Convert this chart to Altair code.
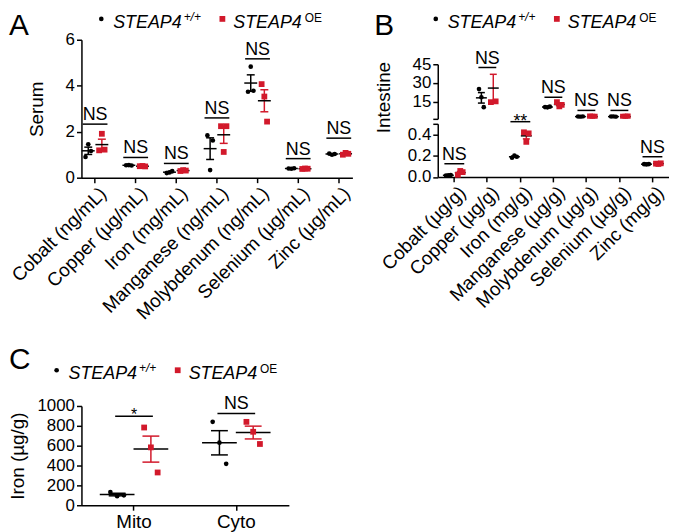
import altair as alt
import pandas as pd

FONT = "Liberation Sans"
RED = "#D2192B"
BLACK = "#000000"
GROUPS = ["WT", "OE"]
OFFSET_KEYS = ["WT0", "WT1", "WT2", "gap1", "gap2", "OE0", "OE1", "OE2"]

# ---------------- Panel A: serum ----------------
a_categories = ["Cobalt (ng/mL)", "Copper (µg/mL)", "Iron (mg/mL)", "Manganese (ng/mL)",
                "Molybdenum (ng/mL)", "Selenium (µg/mL)", "Zinc (µg/mL)"]
a_wt = [[0.90, 1.45, 1.16], [0.54, 0.55, 0.53], [0.20, 0.23, 0.29], [1.84, 0.33, 1.62],
        [3.74, 4.83, 3.78], [0.40, 0.39, 0.41], [1.05, 1.00, 1.03]]
a_oe = [[1.19, 1.91, 1.22], [0.50, 0.51, 0.49], [0.29, 0.33, 0.31], [2.24, 1.12, 2.24],
        [4.07, 3.53, 2.44], [0.38, 0.40, 0.39], [1.00, 1.08, 1.04]]
a_sig_labels = ["NS", "NS", "NS", "NS", "NS", "NS", "NS"]
a_sig_heights = [2.33, 0.88, 0.62, 2.60, 5.17, 0.83, 1.72]
a_yticks = [0, 2, 4, 6]

# ---------------- Panel B: intestine (broken axis) ----------------
b_categories = ["Cobalt (µg/g)", "Copper (µg/g)", "Iron (mg/g)", "Manganese (µg/g)",
                "Molybdenum (µg/g)", "Selenium (µg/g)", "Zinc (mg/g)"]
b_segment = ["low", "high", "low", "high", "high", "high", "low"]
b_wt = [[0.012, 0.015, 0.018], [25.0, 18.4, 10.4], [0.18, 0.20, 0.19], [10.5, 10.3, 10.8],
        [2.8, 2.7, 2.9], [2.8, 2.9, 2.7], [0.120, 0.118, 0.121]]
b_oe = [[0.020, 0.056, 0.045], [14.4, 48.0, 15.0], [0.42, 0.33, 0.41], [14.5, 11.0, 12.3],
        [2.9, 2.8, 2.7], [2.7, 2.8, 2.9], [0.125, 0.122, 0.128]]
b_sig_labels = ["NS", "NS", "**", "NS", "NS", "NS", "NS"]
b_sig_heights = [0.124, 42.4, 0.52, 18.4, 7.8, 7.8, 0.19]
b_high_ticks = [1, 15, 30, 45]
b_low_ticks = [0.0, 0.2, 0.4, 0.5]

# ---------------- Panel C: subcellular iron ----------------
c_categories = ["Mito", "Cyto"]
c_wt = [[133, 90, 100], [840, 630, 417]]
c_oe = [[783, 583, 330], [840, 740, 617]]
c_sig_labels = ["*", "NS"]
c_sig_heights = [897, 925]
c_yticks = [0, 200, 400, 600, 800, 1000]


def point_rows(cats, wt, oe, keep=None):
    rows = []
    for i, c in enumerate(cats):
        if keep is not None and not keep[i]:
            continue
        for g, vals in (("WT", wt[i]), ("OE", oe[i])):
            for r, v in enumerate(vals):
                rows.append({"cat": c, "grp": g, "key": f"{g}{r}", "v": v})
    return pd.DataFrame(rows, columns=["cat", "grp", "key", "v"])


def sig_rows(cats, labels, heights, keep=None):
    rows = []
    for i, c in enumerate(cats):
        if keep is not None and not keep[i]:
            continue
        rows.append({"cat": c, "lab": labels[i], "h": heights[i]})
    return pd.DataFrame(rows, columns=["cat", "lab", "h"])


def panel_layers(pts, sig, xs, ys, xax, yax, ytitle, mean_size, cap_size, br_size,
                 pt_sizes, clip=False, ns_dy=-4, star_dy=5, ns_font=18, star_font=18):
    xenc = alt.X("cat:N", scale=xs, axis=xax, title=None)

    def yenc(f):
        return alt.Y(f + ":Q", scale=ys, axis=yax, title=ytitle)

    off_pts = alt.XOffset("key:N", scale=alt.Scale(domain=OFFSET_KEYS))
    off_c = alt.XOffset("ckey:N", scale=alt.Scale(domain=OFFSET_KEYS))
    color = alt.Color("grp:N", scale=alt.Scale(domain=GROUPS, range=[BLACK, RED]), legend=None)
    shape = alt.Shape("grp:N", scale=alt.Scale(domain=GROUPS, range=["circle", "square"]), legend=None)
    size = alt.Size("grp:N", scale=alt.Scale(domain=GROUPS, range=pt_sizes), legend=None)

    base = alt.Chart(pts)
    stats = base.transform_aggregate(
        m="mean(v)", s="stderr(v)", groupby=["cat", "grp"]
    ).transform_calculate(
        lo="datum.m - datum.s", hi="datum.m + datum.s", ckey="datum.grp + '1'"
    )
    err = stats.mark_rule(strokeWidth=1.5, opacity=1).encode(
        x=xenc, xOffset=off_c, y=yenc("lo"), y2="hi:Q", color=color)
    cap_lo = stats.mark_tick(orient="horizontal", size=cap_size, thickness=1.5, opacity=1).encode(
        x=xenc, xOffset=off_c, y=yenc("lo"), color=color)
    cap_hi = stats.mark_tick(orient="horizontal", size=cap_size, thickness=1.5, opacity=1).encode(
        x=xenc, xOffset=off_c, y=yenc("hi"), color=color)
    mean = stats.mark_tick(orient="horizontal", size=mean_size, thickness=1.5, opacity=1,
                           color=BLACK).encode(x=xenc, xOffset=off_c, y=yenc("m"))
    points = base.mark_point(filled=True, opacity=1, clip=clip).encode(
        x=xenc, xOffset=off_pts, y=yenc("v"), color=color, shape=shape, size=size)

    sbase = alt.Chart(sig)
    bracket = sbase.mark_tick(orient="horizontal", size=br_size, thickness=1.5, opacity=1,
                              color=BLACK).encode(x=xenc, y=yenc("h"))
    ns_text = sbase.transform_filter("datum.lab == 'NS'").mark_text(
        font=FONT, fontSize=ns_font, dy=ns_dy, baseline="alphabetic", color=BLACK, fill=BLACK
    ).encode(x=xenc, y=yenc("h"), text="lab:N")
    star_text = sbase.transform_filter("datum.lab != 'NS'").mark_text(
        font=FONT, fontSize=star_font, dy=star_dy, baseline="alphabetic", color=BLACK, fill=BLACK
    ).encode(x=xenc, y=yenc("h"), text="lab:N")
    return [err, cap_lo, cap_hi, mean, points, bracket, ns_text, star_text]


ONE = alt.Data(values=[{"a": 0}])


def legend_layers(x0, y0):
    L = []
    L.append(alt.Chart(ONE).mark_point(shape="circle", filled=True, color=BLACK, size=22, opacity=1)
             .encode(x=alt.value(x0), y=alt.value(y0 - 9)))
    L.append(alt.Chart(ONE).mark_text(text="STEAP4", font=FONT, fontSize=18, fontStyle="italic",
                                      align="left", baseline="alphabetic", color=BLACK)
             .encode(x=alt.value(x0 + 12), y=alt.value(y0)))
    L.append(alt.Chart(ONE).mark_text(text="+/+", font=FONT, fontSize=12, fontStyle="italic",
                                      align="left", baseline="alphabetic", color=BLACK)
             .encode(x=alt.value(x0 + 83), y=alt.value(y0 - 7)))
    L.append(alt.Chart(ONE).mark_point(shape="square", filled=True, color=RED, size=34, opacity=1)
             .encode(x=alt.value(x0 + 122), y=alt.value(y0 - 9)))
    L.append(alt.Chart(ONE).mark_text(text="STEAP4", font=FONT, fontSize=18, fontStyle="italic",
                                      align="left", baseline="alphabetic", color=BLACK)
             .encode(x=alt.value(x0 + 133), y=alt.value(y0)))
    L.append(alt.Chart(ONE).mark_text(text="OE", font=FONT, fontSize=12,
                                      align="left", baseline="alphabetic", color=BLACK)
             .encode(x=alt.value(x0 + 205), y=alt.value(y0 - 6)))
    return L


def letter_layer(letter, x, y):
    return alt.Chart(ONE).mark_text(text=letter, font=FONT, fontSize=30, align="left",
                                    baseline="alphabetic", color=BLACK).encode(
        x=alt.value(x), y=alt.value(y))


# ---------- A ----------
xs_A = alt.Scale(domain=a_categories, paddingInner=0.464, paddingOuter=0.067)
ys_A = alt.Scale(domain=[0, 6], nice=False, zero=False)
xax_A = alt.Axis(labelAngle=315, labelAlign="right", labelBaseline="top", labelFontSize=19,
                 labelPadding=1, labelOffset=2, labelLimit=400)
yax_A = alt.Axis(values=a_yticks, titleX=-39, titleAngle=270, titleBaseline="alphabetic")
A = alt.layer(
    *panel_layers(point_rows(a_categories, a_wt, a_oe), sig_rows(a_categories, a_sig_labels, a_sig_heights),
                  xs_A, ys_A, xax_A, yax_A, "Serum", 13, 8, 25, [22, 34]),
    *legend_layers(20, -12),
    letter_layer("A", -73, -5),
).properties(width=273, height=139)

# ---------- B ----------
keep_hi = [s == "high" for s in b_segment]
keep_lo = [s == "low" for s in b_segment]
xs_B = alt.Scale(domain=b_categories, paddingInner=0.423, paddingOuter=0.213)
ys_hi = alt.Scale(domain=[1, 45], nice=False, zero=False)
ys_lo = alt.Scale(domain=[0, 0.5], nice=False, zero=False)
yax_hi = alt.Axis(values=b_high_ticks, labelExpr="datum.value == 1 ? '' : datum.label",
                  titleX=-49, titleY=33, titleAngle=270, titleBaseline="alphabetic")
yax_lo = alt.Axis(values=b_low_ticks, format=".1f",
                  labelExpr="datum.value == 0.5 ? '' : datum.label")
xax_B = alt.Axis(labelAngle=315, labelAlign="right", labelBaseline="top", labelFontSize=19,
                 labelPadding=1, labelOffset=2, labelLimit=400)
B_hi = alt.layer(
    *panel_layers(point_rows(b_categories, b_wt, b_oe, keep_hi),
                  sig_rows(b_categories, b_sig_labels, b_sig_heights, keep_hi),
                  xs_B, ys_hi, None, yax_hi, "Intestine", 11, 7, 18, [22, 34], clip=True),
    *legend_layers(-2, -36.7),
    letter_layer("B", -64, -29.7),
).properties(width=233, height=55)
B_lo = alt.layer(
    *panel_layers(point_rows(b_categories, b_wt, b_oe, keep_lo),
                  sig_rows(b_categories, b_sig_labels, b_sig_heights, keep_lo),
                  xs_B, ys_lo, xax_B, yax_lo, None, 11, 7, 20, [22, 34]),
).properties(width=233, height=53.5)
B_inner = alt.vconcat(B_hi, B_lo, spacing=5, bounds="flush").resolve_scale(
    y="independent", xOffset="independent")

# invisible spacer: panel B's plot starts lower than panel A's
spacer = alt.Chart(ONE).mark_point(opacity=0).encode(
    x=alt.value(0), y=alt.value(0)).properties(width=1, height=20)
B_w = alt.vconcat(spacer, B_inner, spacing=4.7, bounds="flush").resolve_scale(
    y="independent", xOffset="independent")

# ---------- C ----------
xs_C = alt.Scale(domain=c_categories, paddingInner=0.472, paddingOuter=0.25)
ys_C = alt.Scale(domain=[0, 1000], nice=False, zero=False)
xax_C = alt.Axis(labelAngle=0, labelFontSize=19, labelPadding=2)
yax_C = alt.Axis(values=c_yticks, format="d", titleX=-58, titleAngle=270, titleBaseline="alphabetic")
C = alt.layer(
    *panel_layers(point_rows(c_categories, c_wt, c_oe), sig_rows(c_categories, c_sig_labels, c_sig_heights),
                  xs_C, ys_C, xax_C, yax_C, "Iron (µg/g)", 35, 17, 38, [22, 34],
                  star_dy=4, star_font=16),
    *legend_layers(-25, -27),
    letter_layer("C", -73, -37),
).properties(width=209, height=100)

top = alt.hconcat(A, B_w, spacing=20).resolve_scale(
    x="independent", y="independent", xOffset="independent")
chart = alt.vconcat(top, C, spacing=22).resolve_scale(
    x="independent", y="independent", xOffset="independent"
).properties(padding=0).configure(
    padding=0, background="white"
).configure_axis(
    labelFont=FONT, titleFont=FONT, labelColor=BLACK, titleColor=BLACK,
    domainColor=BLACK, tickColor=BLACK, domainWidth=1.5, tickWidth=1.5, tickSize=5,
    grid=False, labelFontSize=17, titleFontSize=19, titleFontWeight="normal", labelPadding=2
).configure_view(stroke=None)

chart.save("out.html", embed_options={"renderer": "svg", "actions": False})
